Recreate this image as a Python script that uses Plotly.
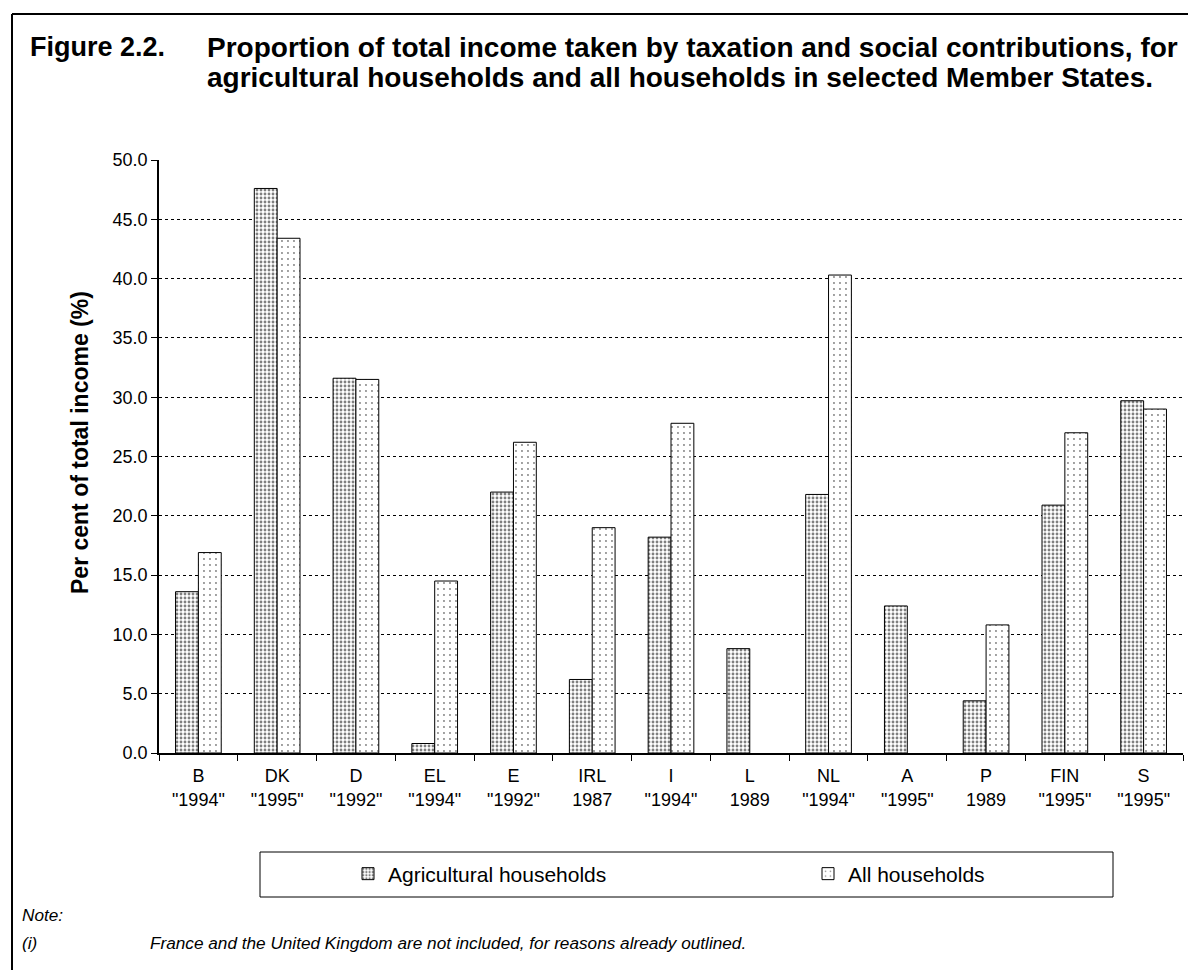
import plotly.graph_objects as go

countries = ["B", "DK", "D", "EL", "E", "IRL", "I", "L", "NL", "A", "P", "FIN", "S"]
years = ['"1994"', '"1995"', '"1992"', '"1994"', '"1992"', '1987', '"1994"', '1989',
         '"1994"', '"1995"', '1989', '"1995"', '"1995"']
agricultural = [13.6, 47.6, 31.6, 0.8, 22.0, 6.2, 18.2, 8.8, 21.8, 12.4, 4.4, 20.9, 29.7]
all_households = [16.9, 43.4, 31.5, 14.5, 26.2, 19.0, 27.8, None, 40.3, None, 10.8, 27.0, 29.0]
y_ticks = [0, 5, 10, 15, 20, 25, 30, 35, 40, 45, 50]

# page has an 8px body margin; figure sized to fill the rest of the window
W, H = 1188, 962
L, R, T, B = 151, 13, 152, 217
PW, PH = W - L - R, H - T - B
SX0, SY1 = 159, 753  # screen position of plot left / plot bottom


def px(x):
    return (x - SX0) / PW


def py(y):
    return (SY1 - y) / PH


FONT = "Liberation Sans, Arial, sans-serif"
labels = [f"{c}<br>{y}" for c, y in zip(countries, years)]

fig = go.Figure()
fig.add_trace(go.Bar(
    x=labels, y=agricultural, name="Agricultural households", legend="legend",
    marker=dict(color="white", line=dict(color="black", width=1),
                pattern=dict(shape=".", fgcolor="black", bgcolor="white", size=4, solidity=0.4)),
))
fig.add_trace(go.Bar(
    x=labels, y=all_households, name="All households", legend="legend2",
    marker=dict(color="white", line=dict(color="black", width=1),
                pattern=dict(shape=".", fgcolor="black", bgcolor="white", size=6, solidity=0.08)),
))

leg_common = dict(orientation="h", yanchor="middle", xanchor="left", y=py(874),
                  font=dict(size=21), bgcolor="rgba(0,0,0,0)", borderwidth=0)
fig.update_layout(
    width=W, height=H,
    margin=dict(l=L, r=R, t=T, b=B),
    paper_bgcolor="white", plot_bgcolor="white",
    font=dict(family=FONT, size=18, color="black"),
    barmode="group", bargap=0.42, bargroupgap=0.0,
    showlegend=True,
    legend=dict(x=px(348), **leg_common),
    legend2=dict(x=px(808), **leg_common),
)

fig.update_xaxes(
    type="category", showline=True, linecolor="black", linewidth=1.5,
    ticks="outside", tickson="boundaries", ticklen=6, tickcolor="black",
    showgrid=False, tickfont=dict(size=18), ticklabelstandoff=6,
)
fig.update_yaxes(
    range=[0, 50], tickvals=y_ticks, tickformat=".1f",
    showline=True, linecolor="black", linewidth=1.5,
    ticks="outside", ticklen=6, tickcolor="black",
    showgrid=True, gridcolor="black", griddash="dot", gridwidth=1,
    zeroline=False, tickfont=dict(size=18),
)

shapes = [
    # legend box
    dict(type="rect", xref="paper", yref="paper", x0=px(260), x1=px(1113), y0=py(852), y1=py(897),
         line=dict(color="black", width=1)),
    # outer frame
    dict(type="line", xref="paper", yref="paper", x0=px(12), x1=px(1196), y0=py(14), y1=py(14),
         line=dict(color="black", width=2)),
    dict(type="line", xref="paper", yref="paper", x0=px(12), x1=px(12), y0=py(14), y1=py(970),
         line=dict(color="black", width=2)),
]
fig.update_layout(shapes=shapes)

ann = [
    dict(text="<b>Figure 2.2.</b>", x=px(28), y=py(47), xanchor="left", yanchor="middle", font=dict(size=27)),
    dict(text="<b>Proportion of total income taken by taxation and social contributions, for</b>",
         x=px(205), y=py(47), xanchor="left", yanchor="middle", font=dict(size=28)),
    dict(text="<b>agricultural households and all households in selected Member States.</b>",
         x=px(205), y=py(77), xanchor="left", yanchor="middle", font=dict(size=28)),
    dict(text="<b>Per cent of total income (%)</b>", x=px(80), y=py(443), textangle=-90,
         xanchor="center", yanchor="middle", font=dict(size=23)),
    dict(text="<i>Note:</i>", x=px(20), y=py(915), xanchor="left", yanchor="middle", font=dict(size=17.2)),
    dict(text="<i>(i)</i>", x=px(20), y=py(943), xanchor="left", yanchor="middle", font=dict(size=17.2)),
    dict(text="<i>France and the United Kingdom are not included, for reasons already outlined.</i>",
         x=px(148), y=py(943), xanchor="left", yanchor="middle", font=dict(size=17.2)),
]
for a in ann:
    a.update(xref="paper", yref="paper", showarrow=False)
fig.update_layout(annotations=ann)

fig.write_html("out.html")
